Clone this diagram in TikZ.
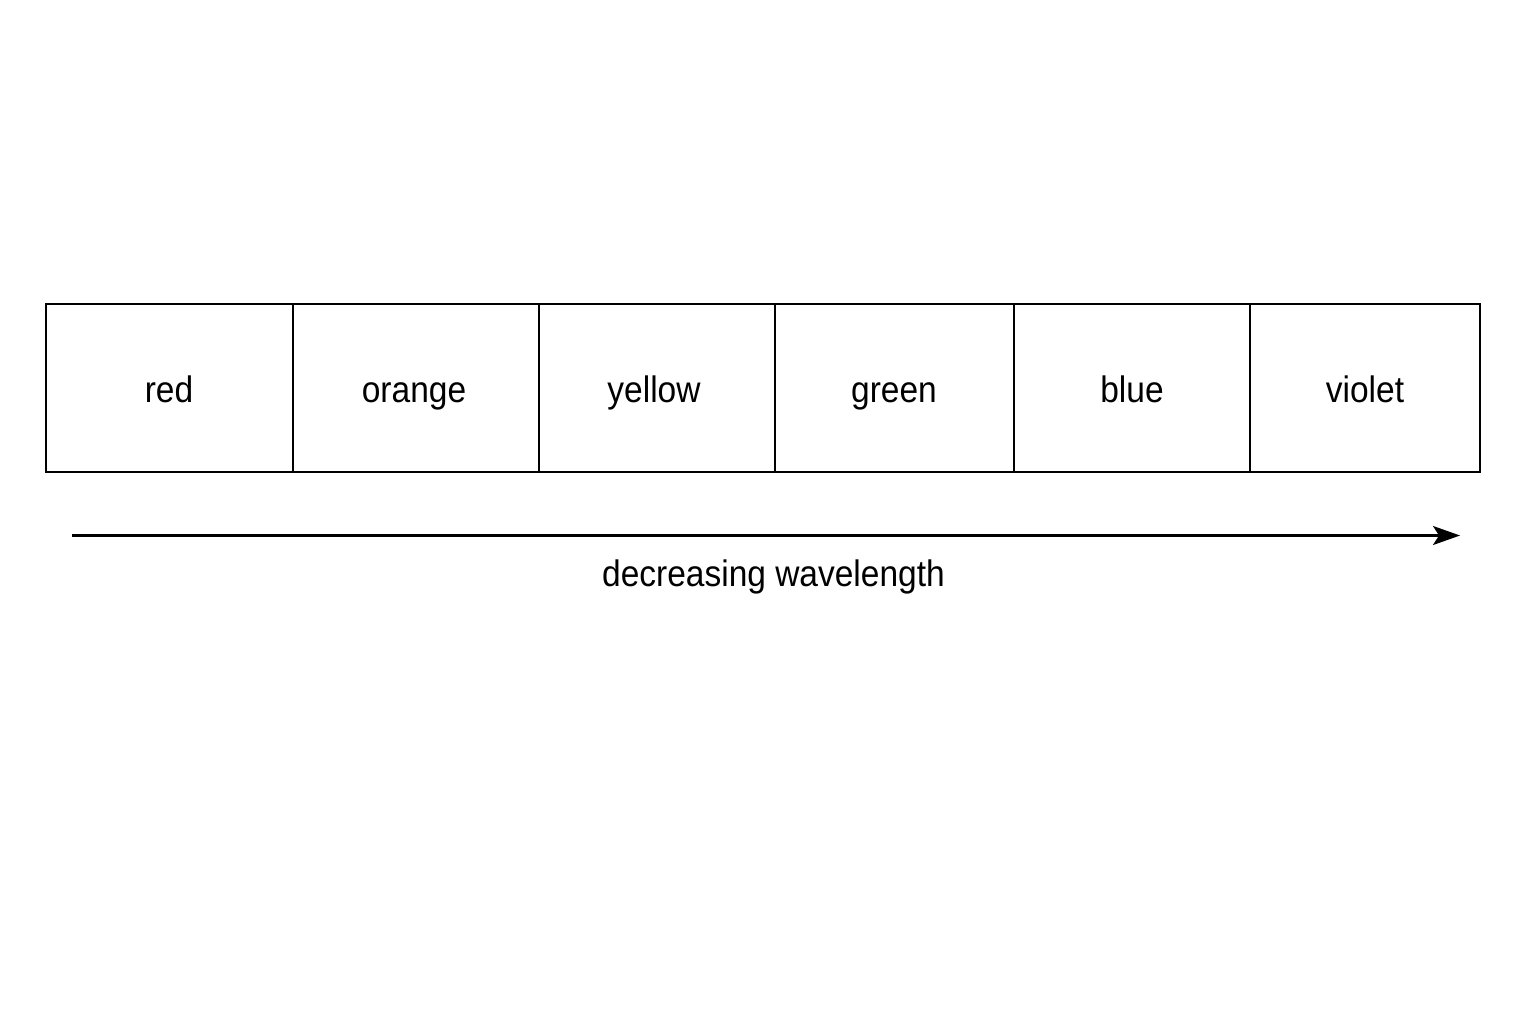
\documentclass[tikz,border=0pt]{standalone}
\usepackage{fontspec}
\setmainfont{Liberation Sans}
\usetikzlibrary{arrows.meta}
\newcommand{\tall}[1]{\scalebox{1}[1.1]{#1}}
\begin{document}
\begin{tikzpicture}[x=1pt,y=-1pt,
  band/.style={draw=black,line width=2.2pt,minimum height=168pt,inner sep=0pt,outer sep=0pt,anchor=north west},
  lbl/.style={font=\fontsize{33.5}{36}\selectfont,inner sep=0pt,anchor=base}]
\useasboundingbox[fill=white] (0,0) rectangle (1536,1024);
\node[band,minimum width=247pt] (red) at (46,304) {};
\node[band,minimum width=246pt] (orange) at (293,304) {};
\node[band,minimum width=236pt] (yellow) at (539,304) {};
\node[band,minimum width=239pt] (green) at (775,304) {};
\node[band,minimum width=236pt] (blue) at (1014,304) {};
\node[band,minimum width=230pt] (violet) at (1250,304) {};
\node[lbl] (tred) at (169,402) {\tall{red}};
\node[lbl] (torange) at (414,402) {\tall{orange}};
\node[lbl] (tyellow) at (654,402) {\tall{yellow}};
\node[lbl] (tgreen) at (894,402) {\tall{green}};
\node[lbl] (tblue) at (1132,402) {\tall{blue}};
\node[lbl] (tviolet) at (1365,402) {\tall{violet}};
\coordinate (a0) at (72,535.5);
\coordinate (a1) at (1460,535.5);
\draw[line width=2.3pt,-{Stealth[length=27pt,width=19pt,inset=6pt]}] (a0) -- (a1);
\node[lbl] (wl) at (773.5,586) {\tall{decreasing wavelength}};
\end{tikzpicture}
\end{document}
